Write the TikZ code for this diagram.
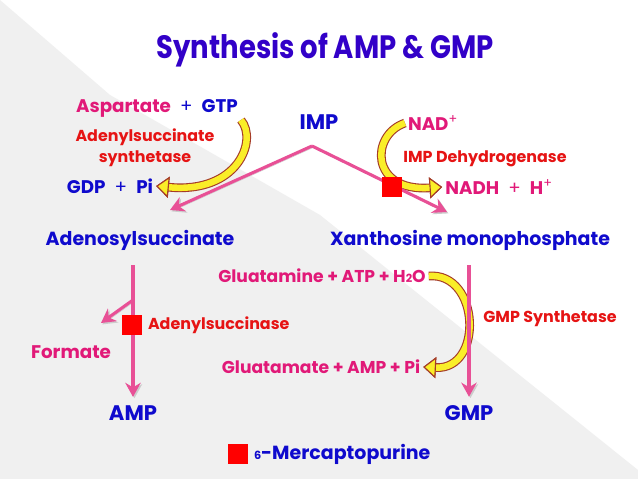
\documentclass[tikz,border=0pt]{standalone}
\usepackage{fontspec}
\setmainfont{Poppins}
\newfontfamily\titlefont{Poppins}[FakeStretch=0.85]
\usepackage{tikz}
\usetikzlibrary{arrows.meta,shapes,positioning}
\definecolor{titleblue}{RGB}{50,0,200}
\definecolor{cpdblue}{RGB}{15,10,205}
\definecolor{subpink}{RGB}{225,25,120}
\definecolor{enzred}{RGB}{230,20,20}
\definecolor{flowpink}{RGB}{232,80,150}
\definecolor{bandyellow}{RGB}{250,238,40}
\definecolor{bandbrown}{RGB}{165,60,40}
\newcommand{\plus}{\enspace{\mdseries +}\enspace}
\tikzstyle{compound}=[font=\fontsize{13.5}{16}\selectfont\bfseries, text=cpdblue, inner sep=2pt]
\tikzstyle{nucleotide}=[compound, font=\fontsize{15}{18}\selectfont\bfseries]
\tikzstyle{cofactor}=[font=\fontsize{13}{15}\selectfont\bfseries, text=subpink, inner sep=2pt]
\tikzstyle{enzyme}=[font=\fontsize{11.3}{15}\selectfont\bfseries, text=enzred, inner sep=2pt, align=center]
\tikzstyle{blocker}=[fill=red, minimum size=14pt, inner sep=0pt]
\tikzstyle{flow}=[draw=flowpink, line width=2.2pt, -{Stealth[length=10pt,width=11pt]}, preaction={draw=black!20, transform canvas={xshift=1pt,yshift=-1pt}}]
\tikzstyle{band}=[draw=bandyellow, line width=4.6pt, preaction={draw=bandbrown, line width=6.2pt}, -{Triangle[length=9pt,width=15pt,line width=0.8pt,fill=bandyellow,color=bandbrown]}]

\begin{document}
\begin{tikzpicture}[x=0.025cm,y=-0.025cm]
    % Background
    \useasboundingbox (0,0) rectangle (638,479);
    \fill[white] (0,0) rectangle (638,479);
    \fill[black!6] (0,0) -- (110,95) -- (320,215) -- (638,470) -- (638,479) -- (0,479) -- cycle;
    \node[font=\titlefont\fontsize{23}{28}\selectfont\bfseries, text=titleblue] (title) at (325,50) {Synthesis of AMP \& GMP};

    % First we draw the compounds
    \foreach \pos/\name/\txt in {{(319,122)/imp/IMP}, {(133,413)/amp/AMP}, {(469,413)/gmp/GMP}}
        \node[nucleotide] (\name) at \pos {\txt};
    \foreach \pos/\name/\txt in {{(140,240)/adeno/Adenosylsuccinate}, {(470,240)/xmp/Xanthosine monophosphate}}
        \node[compound] (\name) at \pos {\txt};

    % Side substrates and products
    \node[cofactor] (asp) at (157,108) {Aspartate\textcolor{cpdblue}{\plus GTP}};
    \node[cofactor, text=cpdblue] (gdp) at (110,186) {GDP\plus Pi};
    \node[cofactor] (nad) at (433,123) {NAD\textsuperscript{\mdseries+}};
    \node[cofactor] (nadh) at (499,187) {NADH\plus H\textsuperscript{\mdseries+}};
    \node[cofactor, font=\fontsize{12.2}{14}\selectfont\bfseries] (gln) at (322,276) {Gluatamine + ATP + H{\fontsize{8}{8}\selectfont 2}O};
    \node[cofactor, font=\fontsize{12.2}{14}\selectfont\bfseries] (glu) at (321,367) {Gluatamate + AMP + Pi};
    \node[cofactor] (form) at (71,352) {Formate};

    % Enzymes and the blocks
    \node[enzyme] (ass) at (145,148) {Adenylsuccinate\\synthetase};
    \node[enzyme] (imd) at (485,159) {IMP Dehydrogenase};
    \node[enzyme] (gmps) at (550,319) {GMP Synthetase};
    \node[blocker] (b1) at (132,325) {};
    \node[blocker] (b2) at (392,187) {};
    \node[blocker] (b3) at (238,454) {};
    \node[enzyme, right=2pt of b1] (ads) {Adenylsuccinase};
    \node[compound, right=2pt of b3] (mp) {{\fontsize{8}{8}\selectfont 6}-Mercaptopurine};

    % Curved side arrows
    \draw[band] (asp.south east) .. controls (258,140) and (238,194) .. (gdp.east);
    \draw[band] (nad.west) .. controls (370,135) and (370,192) .. (nadh.west);
    \draw[band] (gln.east) .. controls (480,272) and (484,370) .. (glu.east);

    % Main pathway
    \coordinate (fork) at (312,146);
    \coordinate (aend) at (170,210);
    \coordinate (xend) at (447,212);
    \coordinate (atop) at (133,265);
    \coordinate (xtop) at (469,265);
    \coordinate (split) at (133,300);
    \coordinate (fend) at (101,323);
    \foreach \source/\dest in {fork/aend, fork/xend, split/fend}
        \path[flow] (\source) -- (\dest);
    \path[flow, shorten >=4pt] (atop) -- (amp.north);
    \path[flow, shorten >=4pt] (xtop) -- (gmp.north);
    \node[blocker] at (b1) {};
    \node[blocker] at (b2) {};
\end{tikzpicture}
\end{document}
